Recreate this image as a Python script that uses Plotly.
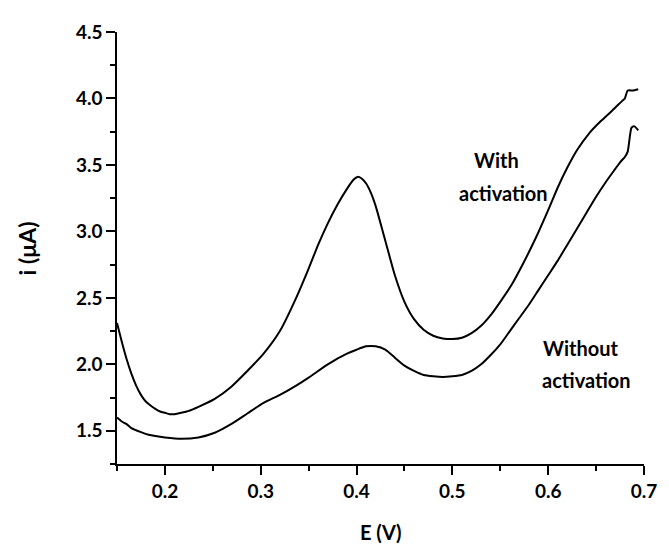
import plotly.graph_objects as go

# With activation
x_with = [0.150, 0.155, 0.160, 0.165, 0.170, 0.175, 0.180, 0.185, 0.190, 0.195, 0.200, 0.205, 0.210,
          0.217, 0.225, 0.235, 0.252, 0.269, 0.286, 0.303, 0.320, 0.337, 0.350, 0.360, 0.370,
          0.380, 0.390, 0.397, 0.401, 0.405, 0.410, 0.415, 0.420, 0.430, 0.440, 0.450, 0.460,
          0.470, 0.480, 0.490, 0.500, 0.510, 0.520, 0.530, 0.540, 0.550, 0.562, 0.574, 0.587,
          0.600, 0.610, 0.620, 0.630, 0.643, 0.655, 0.667, 0.677, 0.680, 0.683, 0.688, 0.694]
y_with = [2.31, 2.17, 2.04, 1.93, 1.84, 1.77, 1.72, 1.69, 1.665, 1.645, 1.635, 1.625, 1.625,
          1.635, 1.65, 1.68, 1.74, 1.83, 1.95, 2.08, 2.25, 2.50, 2.72, 2.90, 3.06,
          3.20, 3.32, 3.39, 3.41, 3.40, 3.36, 3.29, 3.19, 2.93, 2.67, 2.47, 2.34,
          2.26, 2.215, 2.195, 2.19, 2.20, 2.235, 2.29, 2.37, 2.47, 2.60, 2.76, 2.95,
          3.16, 3.33, 3.48, 3.61, 3.74, 3.83, 3.91, 3.98, 4.00, 4.06, 4.06, 4.07]

# Without activation
x_without = [0.150, 0.155, 0.160, 0.165, 0.175, 0.183, 0.190, 0.200, 0.217, 0.235, 0.252, 0.269,
             0.286, 0.303, 0.320, 0.337, 0.350, 0.370, 0.390, 0.400, 0.410, 0.420, 0.430, 0.440,
             0.450, 0.460, 0.470, 0.480, 0.490, 0.500, 0.510, 0.520, 0.530, 0.540, 0.550, 0.560,
             0.570, 0.580, 0.590, 0.600, 0.610, 0.620, 0.630, 0.640, 0.650, 0.660, 0.670, 0.675,
             0.680, 0.683, 0.687, 0.690, 0.694]
y_without = [1.60, 1.57, 1.55, 1.52, 1.49, 1.47, 1.46, 1.45, 1.44, 1.45, 1.485, 1.55,
             1.63, 1.71, 1.77, 1.84, 1.90, 2.00, 2.08, 2.11, 2.135, 2.135, 2.11, 2.05,
             1.99, 1.95, 1.92, 1.91, 1.905, 1.91, 1.92, 1.95, 2.00, 2.07, 2.15, 2.25,
             2.35, 2.45, 2.56, 2.67, 2.78, 2.90, 3.02, 3.14, 3.26, 3.37, 3.47, 3.52,
             3.56, 3.60, 3.78, 3.79, 3.76]

x_tickvals = [0.2, 0.3, 0.4, 0.5, 0.6, 0.7]
y_tickvals = [1.5, 2.0, 2.5, 3.0, 3.5, 4.0, 4.5]

FONT = "Lato"

fig = go.Figure()
for xs, ys in ((x_with, y_with), (x_without, y_without)):
    fig.add_trace(go.Scatter(x=xs, y=ys, mode="lines",
                             line=dict(color="black", width=2, shape="spline", smoothing=0.6),
                             showlegend=False))

axis_common = dict(showgrid=False, zeroline=False, showline=True, linecolor="black",
                   linewidth=1.5, ticks="outside", ticklen=9, tickwidth=1.5, tickcolor="black",
                   tickfont=dict(family=FONT, size=19, color="black", weight="bold"))

fig.update_xaxes(range=[0.15, 0.7], tickvals=x_tickvals,
                 ticktext=[f"{v:.1f}" for v in x_tickvals],
                 minor=dict(ticks="outside", ticklen=5, tickwidth=1.5, tickcolor="black",
                            tick0=0.15, dtick=0.05),
                 **axis_common)
fig.update_yaxes(range=[1.25, 4.5], tickvals=y_tickvals,
                 ticktext=[f"{v:.1f}" for v in y_tickvals],
                 minor=dict(ticks="outside", ticklen=5, tickwidth=1.5, tickcolor="black",
                            tick0=1.25, dtick=0.25),
                 **axis_common)

ann_font = dict(family=FONT, size=20, color="black", weight="bold")
labels = [("With", 0.546, 3.54), ("activation", 0.553, 3.29),
          ("Without", 0.634, 2.125), ("activation", 0.640, 1.88)]
for txt, lx, ly in labels:
    fig.add_annotation(x=lx, y=ly, text=txt, showarrow=False, font=ann_font,
                       xanchor="center", yanchor="middle")

fig.add_annotation(x=0.5, y=-0.158, xref="paper", yref="paper", text="E (V)",
                   showarrow=False, font=ann_font, xanchor="center", yanchor="middle")
fig.add_annotation(x=-0.17, y=0.5, xref="paper", yref="paper", text="i (μA)",
                   showarrow=False, textangle=-90, xanchor="center", yanchor="middle",
                   font=dict(family=FONT, size=23, color="black", weight="bold"))

# page body has an 8px default margin, so the figure is shrunk by 8px to fit the window
fig.update_layout(width=661, height=540, plot_bgcolor="white", paper_bgcolor="white",
                  margin=dict(l=109, r=16, t=20, b=84))

fig.write_html("out.html")
